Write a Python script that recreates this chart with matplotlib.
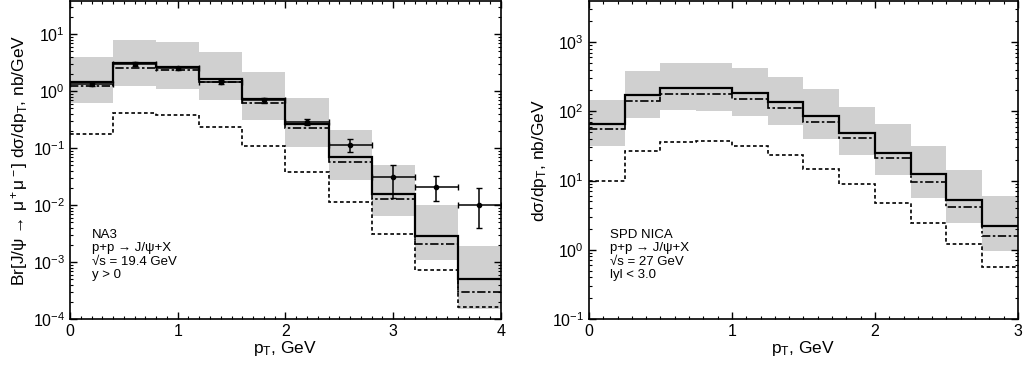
import matplotlib
matplotlib.use("Agg")
import matplotlib.pyplot as plt
import numpy as np
from matplotlib.ticker import LogLocator, MultipleLocator, NullFormatter

plt.rcParams['font.family'] = ['Liberation Sans', 'DejaVu Sans']
plt.rcParams['mathtext.fontset'] = 'custom'
plt.rcParams['mathtext.rm'] = 'Liberation Sans'
plt.rcParams['mathtext.it'] = 'Liberation Sans'
plt.rcParams['mathtext.default'] = 'regular'

# NA3, sqrt(s) = 19.4 GeV (left panel)
na3_edges = np.linspace(0, 4, 11)
na3_total = [1.42, 3.06, 2.64, 1.60, 0.74, 0.26, 0.0707, 0.0158, 0.0029, 0.0005]
na3_dashdot = [1.25, 2.57, 2.30, 1.42, 0.625, 0.228, 0.058, 0.0126, 0.0021, 0.0003]
na3_dotted = [0.18, 0.41, 0.38, 0.237, 0.108, 0.038, 0.0115, 0.0031, 0.00072, 0.00016]
na3_band_lo = [0.62, 1.22, 1.10, 0.70, 0.31, 0.106, 0.028, 0.0063, 0.0011, 0.00015]
na3_band_hi = [3.9, 8.0, 7.3, 4.8, 2.19, 0.745, 0.21, 0.050, 0.010, 0.0019]

na3_pt = [0.2, 0.6, 1.0, 1.4, 1.8, 2.2, 2.6, 3.0, 3.4, 3.8]
na3_data = [1.35, 3.0, 2.5, 1.45, 0.70, 0.29, 0.111, 0.031, 0.021, 0.010]
na3_err_lo = [0.12, 0.25, 0.18, 0.12, 0.07, 0.04, 0.027, 0.0175, 0.009, 0.006]
na3_err_hi = [0.12, 0.25, 0.18, 0.12, 0.07, 0.04, 0.036, 0.019, 0.012, 0.010]

# SPD NICA, sqrt(s) = 27 GeV (right panel)
spd_edges = np.linspace(0, 3, 13)
spd_total = [65, 172, 218, 218, 182, 135, 86, 49, 25, 12.3, 5.2, 2.18]
spd_dashdot = [56, 142, 178, 178, 152, 110, 70, 41.5, 21, 9.5, 4.2, 1.59]
spd_dotted = [10, 27, 36, 37, 31, 23, 14.7, 8.8, 4.8, 2.43, 1.21, 0.57]
spd_band_lo = [32, 81, 104, 100, 86, 63, 40, 23, 12, 5.6, 2.45, 0.97]
spd_band_hi = [145, 380, 497, 497, 417, 313, 207, 117, 65, 31.5, 14.2, 6.0]

fig = plt.figure(figsize=(10.35, 3.65), dpi=100)
ax1 = fig.add_axes([0.0676, 0.126, 0.4164, 0.871])
ax2 = fig.add_axes([0.569, 0.126, 0.4145, 0.871])

band_color = '#d0d0d0'
dashdot = (0, (5, 1.5, 1.5, 1.5))
dotted = (0, (2.2, 1.6))


def draw_panel(ax, edges, total, dd, dot, lo, hi):
    ax.stairs(hi, edges, baseline=lo, fill=True, color=band_color, lw=0)
    ax.stairs(dot, edges, baseline=None, color='black', lw=1.2, linestyle=dotted)
    ax.stairs(dd, edges, baseline=None, color='black', lw=1.2, linestyle=dashdot)
    ax.stairs(total, edges, baseline=None, color='black', lw=1.6)
    ax.set_yscale('log')
    ax.set_xlim(edges[0], edges[-1])
    ax.xaxis.set_major_locator(MultipleLocator(1))
    ax.xaxis.set_minor_locator(MultipleLocator(0.1))
    ax.yaxis.set_major_locator(LogLocator(base=10, numticks=20))
    ax.yaxis.set_minor_locator(LogLocator(base=10, subs=np.arange(2, 10), numticks=20))
    ax.yaxis.set_minor_formatter(NullFormatter())
    ax.tick_params(which='both', direction='in', top=True, right=True, labelsize=11.5)
    ax.tick_params(which='major', length=5, width=1)
    ax.tick_params(which='minor', length=2.5, width=0.8)
    for sp in ax.spines.values():
        sp.set_linewidth(1.2)
    ax.set_xlabel('p$_T$, GeV', fontsize=12.5, labelpad=0)


draw_panel(ax1, na3_edges, na3_total, na3_dashdot, na3_dotted, na3_band_lo, na3_band_hi)
ax1.errorbar(na3_pt, na3_data, xerr=0.2, yerr=[na3_err_lo, na3_err_hi],
             fmt='o', ms=3, color='black', ecolor='black', elinewidth=1.1, capsize=2)
ax1.set_ylim(1e-4, 38)
ax1.set_ylabel('Br[J/ψ → μ$^+$μ$^-$] dσ/dp$_T$, nb/GeV', fontsize=12.5, labelpad=2)
ax1.text(0.2, 0.0038, 'NA3\np+p → J/ψ+X\n√s = 19.4 GeV\ny > 0', fontsize=9.5,
         va='top', ha='left', linespacing=1.15)

draw_panel(ax2, spd_edges, spd_total, spd_dashdot, spd_dotted, spd_band_lo, spd_band_hi)
ax2.set_ylim(0.1, 3900)
ax2.set_ylabel('dσ/dp$_T$, nb/GeV', fontsize=12.5, labelpad=2)
ax2.text(0.147, 2.0, 'SPD NICA\np+p → J/ψ+X\n√s = 27 GeV\nlyl < 3.0', fontsize=9.5,
         va='top', ha='left', linespacing=1.15)

fig.savefig('out.png', dpi=100)
